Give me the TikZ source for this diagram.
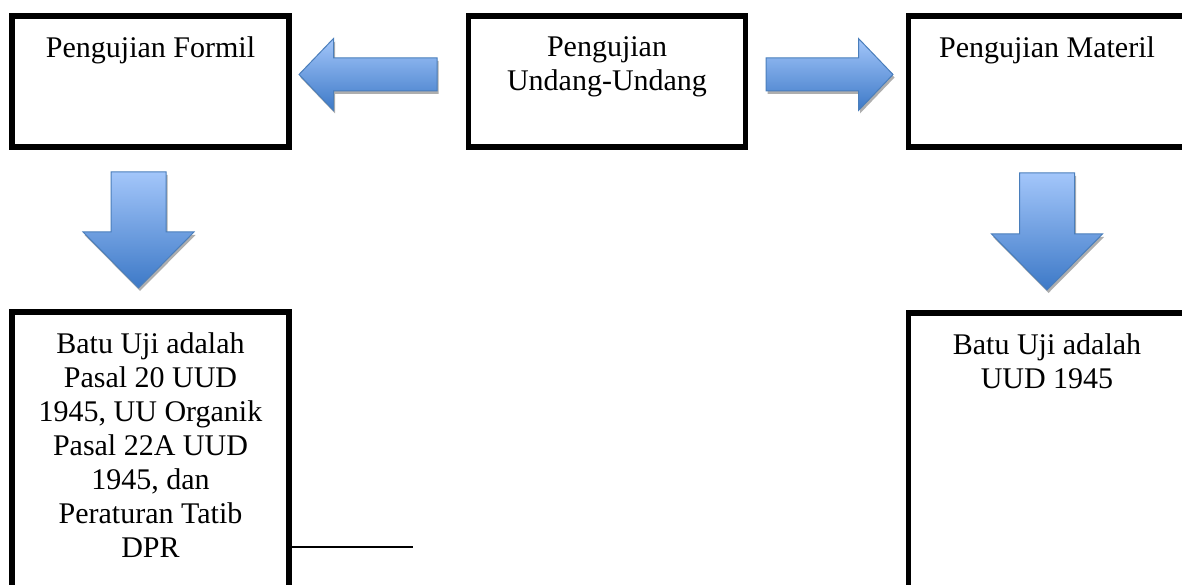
\documentclass[tikz,border=0pt]{standalone}
\usepackage{fontspec}
\setmainfont{Liberation Serif}
\usetikzlibrary{positioning, calc}
\definecolor{arrowtop}{HTML}{A3C6FA}
\definecolor{arrowbottom}{HTML}{3D79C7}
\definecolor{arrowborder}{HTML}{4A7EBB}
\definecolor{arrowshade}{HTML}{8C8C8C}
\tikzset{
  frame/.style={rectangle, draw=black, line width=5.5pt, inner sep=0pt,
                minimum width=277pt},
  topframe/.style={frame, minimum height=131pt},
  baseframe/.style={frame, minimum height=330pt},
  boxtext/.style={inner sep=0pt, align=center,
                  font=\fontsize{30}{34}\selectfont},
  blockarrow/.style={draw=arrowborder, line width=1pt, line join=miter,
                     top color=arrowtop, bottom color=arrowbottom},
  blockshadow/.style={fill=arrowshade, opacity=0.7},
  stub/.style={line width=2pt, draw=black},
}
\def\leftgap{174pt}
\def\rightgap{157.5pt}
\def\rowgap{159.5pt}
\def\textdrop{23pt}

\begin{document}
\begin{tikzpicture}[x=1pt, y=-1pt]
\useasboundingbox (0,0) rectangle (1182,585);
\clip (0,0) rectangle (1182,585);

% Top row
\node[topframe, anchor=north west] (formil) at (9.25,13.25) {};
\node[topframe, right=\leftgap of formil] (uu) {};
\node[topframe, right=\rightgap of uu] (materil) {};

% Bottom row (runs past the page edge)
\node[baseframe, below=\rowgap of formil] (batuformil) {};
\node[baseframe, below=\rowgap+1pt of materil] (batumateril) {};

% Texts, hung from the top of each box
\node[boxtext, below=\textdrop of formil.north] (formiltext) {Pengujian Formil};
\node[boxtext, below=\textdrop of uu.north] (uutext) {Pengujian\\Undang-Undang};
\node[boxtext, below=\textdrop of materil.north] (materiltext) {Pengujian Materil};
\node[boxtext, below=\textdrop of batuformil.north] (batuformiltext)
  {Batu Uji adalah\\Pasal 20 UUD\\1945, UU Organik\\Pasal 22A UUD\\1945, dan\\Peraturan Tatib\\DPR};
\node[boxtext, below=\textdrop of batumateril.north] (batumateriltext)
  {Batu Uji adalah\\UUD 1945};

% Block arrows, sideways (tip x / side / length)
\foreach \tx/\s/\len in {299/1/138, 893/-1/127} {
  \foreach \look/\dx/\dy in {blockshadow/1.5/3, blockarrow/0/0} {
    \path[\look] (\tx+\dx,74.5+\dy) -- ++(\s*34.5,36) -- ++(0,-19.5)
      -- ++({\s*(\len-34.5)},0) -- ++(0,-33) -- ++({-\s*(\len-34.5)},0)
      -- ++(0,-19.5) -- cycle;
  }
}

% Block arrows, downwards (centre x / tip y / length)
\foreach \cx/\ty/\len in {138.5/288/116, 1047/290/117} {
  \foreach \look/\dx/\dy in {blockshadow/1.5/3, blockarrow/0/0} {
    \path[\look] (\cx+\dx,\ty+\dy) -- ++(-55.5,-56) -- ++(28,0)
      -- ++(0,{-(\len-56)}) -- ++(55,0) -- ++(0,{\len-56})
      -- ++(28,0) -- cycle;
  }
}

% Loose line
\coordinate (stubend) at (413,547);
\draw[stub] (stubend -| batuformil.east) -- (stubend);

\end{tikzpicture}
\end{document}
